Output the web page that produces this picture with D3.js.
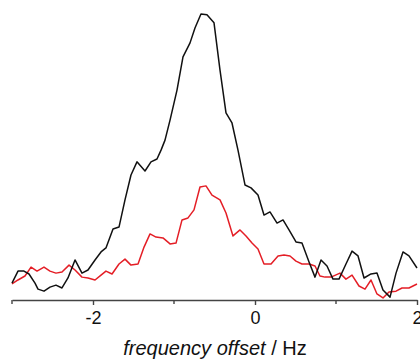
<!DOCTYPE html>
<html lang="en">
<head>
<meta charset="UTF-8">
<script src="https://cdn.jsdelivr.net/npm/d3@7"></script>
<title>frequency offset</title>
<style>
    body { margin: 0; background: #fff; }
    .axis text { font-family: "Liberation Sans", Arial, sans-serif; }
</style>
</head>
<body>
<div id="chart"></div>
<script>
    const width = 420,
        height = 361;

    // frequency offset (Hz) and intensity (arb. units), black trace
    const blackHz = [-3.000, -2.926, -2.852, -2.790, -2.716, -2.679, -2.605, -2.531, -2.457, -2.383,
        -2.309, -2.222, -2.136, -2.062, -1.975, -1.901, -1.840, -1.753, -1.679, -1.605,
        -1.531, -1.457, -1.358, -1.284, -1.210, -1.160, -1.111, -1.049, -0.963, -0.889,
        -0.802, -0.741, -0.667, -0.593, -0.506, -0.432, -0.358, -0.284, -0.210, -0.123,
        -0.049, 0.037, 0.111, 0.185, 0.272, 0.346, 0.420, 0.506, 0.580, 0.667,
        0.741, 0.815, 0.889, 0.963, 1.037, 1.123, 1.198, 1.272, 1.346, 1.432,
        1.506, 1.580, 1.667, 1.741, 1.827, 1.901, 2.000];
    const blackVal = [5.9, 10.1, 10.1, 9.1, 5.9, 3.8, 3.1, 4.5, 5.2, 4.2,
        7.7, 14.0, 9.4, 10.5, 14.0, 16.8, 18.2, 24.8, 25.5, 35.0,
        43.7, 48.3, 45.1, 48.3, 49.3, 52.4, 55.9, 62.9, 73.4, 85.0,
        89.9, 95.1, 100, 99.7, 96.9, 80.4, 65.4, 61.9, 52.4, 40.2,
        39.2, 36.7, 29.7, 30.8, 26.9, 28.0, 24.5, 20.3, 19.9, 13.3,
        8.0, 14.0, 11.9, 7.3, 7.3, 12.6, 17.1, 15.4, 7.7, 9.1,
        9.4, 3.5, 1.0, 9.4, 16.8, 15.4, 11.2];

    // red trace
    const redHz = [-3.000, -2.926, -2.840, -2.765, -2.691, -2.605, -2.531, -2.457, -2.383, -2.296,
        -2.222, -2.136, -2.062, -1.975, -1.901, -1.840, -1.765, -1.679, -1.605, -1.531,
        -1.444, -1.370, -1.296, -1.222, -1.136, -1.049, -0.975, -0.901, -0.827, -0.753,
        -0.679, -0.605, -0.531, -0.432, -0.358, -0.272, -0.185, -0.111, -0.037, 0.037,
        0.111, 0.198, 0.284, 0.358, 0.432, 0.506, 0.580, 0.667, 0.741, 0.802,
        0.864, 0.938, 1.049, 1.123, 1.198, 1.284, 1.358, 1.432, 1.506, 1.580,
        1.654, 1.741, 1.815, 1.901, 2.000];
    const redVal = [5.6, 7.0, 8.4, 11.5, 10.1, 11.5, 10.1, 9.4, 9.8, 12.2,
        10.5, 8.0, 7.7, 7.0, 8.7, 10.1, 9.1, 12.6, 14.3, 12.2,
        12.6, 18.5, 23.1, 22.0, 21.7, 19.6, 19.9, 28.0, 28.7, 31.5,
        39.5, 39.9, 36.7, 35.0, 30.4, 22.4, 24.5, 22.4, 19.9, 17.8,
        12.6, 12.6, 15.4, 15.7, 15.4, 13.6, 12.6, 12.6, 11.9, 8.4,
        8.0, 8.0, 9.4, 7.3, 8.7, 4.9, 3.8, 7.0, 2.1, 0.7,
        2.8, 3.1, 4.2, 4.2, 5.6];

    const majorTicks = [-2, 0, 2];
    const minorTicks = [-3, -1, 1];

    const xScale = d3.scaleLinear()
        .domain([-3, 2])
        .range([12, 417]);

    const yScale = d3.scaleLinear()
        .domain([0, 100])
        .range([300, 14]);

    const svg = d3.select("#chart")
        .append("svg")
        .attr("width", width)
        .attr("height", height);

    const line = d3.line()
        .x(d => xScale(d[0]))
        .y(d => yScale(d[1]));

    const series = [
        { color: "#e41e26", pts: redHz.map((h, i) => [h, redVal[i]]) },
        { color: "#111111", pts: blackHz.map((h, i) => [h, blackVal[i]]) }
    ];

    svg.selectAll("path.trace")
        .data(series)
        .enter()
        .append("path")
        .attr("class", "trace")
        .attr("d", d => line(d.pts))
        .attr("fill", "none")
        .attr("stroke", d => d.color)
        .attr("stroke-width", 1.5)
        .attr("stroke-linejoin", "round");

    // bottom axis with major labelled ticks
    const xAxis = d3.axisBottom(xScale)
        .tickValues(majorTicks)
        .tickSize(5)
        .tickSizeOuter(0)
        .tickPadding(6)
        .tickFormat(d3.format("d"));

    const gx = svg.append("g")
        .attr("class", "axis")
        .attr("transform", "translate(0, 300)")
        .call(xAxis);

    gx.select(".domain")
        .attr("stroke", "#444")
        .attr("stroke-width", 1.6);
    gx.selectAll(".tick line")
        .attr("stroke", "#444")
        .attr("stroke-width", 1.4);
    gx.selectAll(".tick text")
        .attr("font-size", 18)
        .attr("fill", "#111")
        .text(d => d < 0 ? "-" + Math.abs(d) : d);

    gx.selectAll("line.minor")
        .data(minorTicks)
        .enter()
        .append("line")
        .attr("class", "minor")
        .attr("x1", d => xScale(d))
        .attr("x2", d => xScale(d))
        .attr("y1", 0)
        .attr("y2", 4)
        .attr("stroke", "#444")
        .attr("stroke-width", 1.4);

    const title = svg.append("text")
        .attr("class", "axis")
        .attr("x", 215)
        .attr("y", 355)
        .attr("text-anchor", "middle")
        .attr("font-family", "'Liberation Sans', Arial, sans-serif")
        .attr("font-size", 20)
        .attr("fill", "#111");
    title.append("tspan").attr("font-style", "italic").text("frequency offset");
    title.append("tspan").text(" / Hz");
</script>
</body>
</html>
